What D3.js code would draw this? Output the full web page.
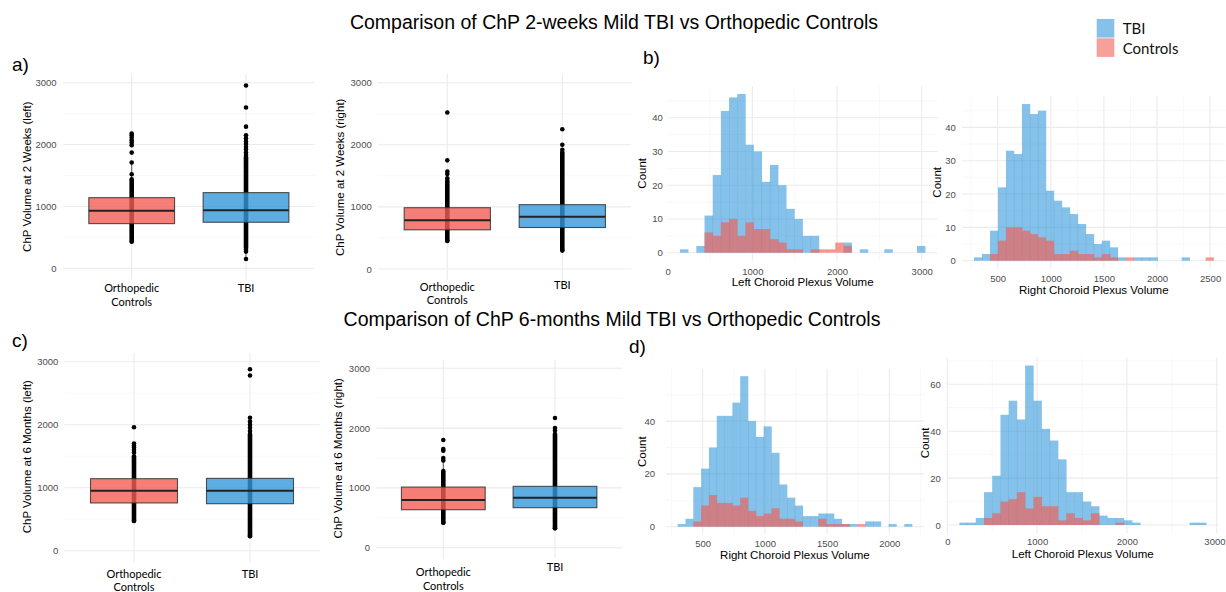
<!DOCTYPE html>
<html><head><meta charset="utf-8">
<script src="https://cdn.jsdelivr.net/npm/d3@7"></script>
<style>body{margin:0;background:#fff}svg{display:block}</style>
</head><body><svg id="c" width="1226" height="592"></svg>
<script>
// ---------------- DATA ----------------
const groups = ["Orthopedic Controls", "TBI"];
const groupLabels = [["Orthopedic", "Controls"], ["TBI"]];
const boxTicks = [0, 1000, 2000, 3000];
const boxMinor = [500, 1500, 2500];

// box stats per group: [whiskerLow, q1, median, q3, whiskerHigh]
const box2wLeftStats  = [[430, 722, 932, 1142, 1710], [150, 744, 938, 1223, 1900]];
const box2wLeftDense  = [[440, 1440], [330, 1800]];
const box2wLeftPts    = [[430, 1520, 1710, 1870, 1990, 2030, 2070, 2110, 2150, 2180],
                         [150, 270, 300, 1830, 1870, 1920, 1960, 2010, 2050, 2100, 2150, 2290, 2600, 2955]];

const box2wRightStats = [[453, 631, 787, 987, 1500], [296, 668, 842, 1036, 1560]];
const box2wRightDense = [[455, 1420], [310, 1880]];
const box2wRightPts   = [[453, 1460, 1530, 1570, 1750, 2520], [296, 1920, 2000, 2250]];

const box6mLeftStats  = [[471, 758, 952, 1143, 1690], [233, 746, 952, 1148, 1740]];
const box6mLeftDense  = [[475, 1500], [230, 1850]];
const box6mLeftPts    = [[471, 1560, 1600, 1640, 1670, 1700, 1960], [233, 1900, 1950, 2000, 2050, 2110, 2780, 2880]];

const box6mRightStats = [[418, 635, 796, 1014, 1500], [324, 669, 835, 1026, 1550]];
const box6mRightDense = [[420, 1280], [325, 1900]];
const box6mRightPts   = [[418, 1460, 1500, 1620, 1650, 1800], [324, 1960, 2000, 2170]];

// histograms: 30 bins each, bin start + width
const hist2wLeftStart = 146, hist2wLeftWidth = 96.5;
const hist2wLeftTBI  = [1,0,2,11,23,42,46,47,32,30,21,26,20,13,10,5,5,0,0,0,3,0,1,0,0,1,0,0,0,2];
const hist2wLeftCtrl = [0,0,0,6,5,9,10,5,9,7,7,4,3,1,1,0,1,1,1,3,2,0,0,0,0,0,0,0,0,0];
const hist2wLeftTicks = [0, 1000, 2000, 3000];

const hist2wRightStart = 277, hist2wRightWidth = 75.2;
const hist2wRightTBI  = [1,2,9,22,33,32,47,44,45,21,18,16,14,11,8,5,6,4,1,0,1,1,1,0,0,0,1,0,0,0];
const hist2wRightCtrl = [0,0,2,6,10,10,9,8,7,6,2,2,3,2,2,1,2,1,0,1,0,0,0,0,0,0,0,0,0,1];
const hist2wRightTicks = [500, 1000, 1500, 2000, 2500];

const hist6mRightStart = 299, hist6mRightWidth = 62.8;
const hist6mRightTBI  = [1,3,15,22,30,42,42,47,57,40,34,38,28,16,11,8,4,4,5,5,3,1,1,0,2,2,0,1,0,1];
const hist6mRightCtrl = [0,0,2,8,12,9,9,8,11,6,4,5,7,3,3,2,0,0,3,1,1,1,0,1,0,0,0,0,0,0];
const hist6mRightTicks = [500, 1000, 1500, 2000];

const hist6mLeftStart = 134, hist6mLeftWidth = 91.6;
const hist6mLeftTBI  = [1,1,3,14,21,47,53,45,68,53,41,36,28,14,14,10,8,4,3,3,2,1,0,0,0,0,0,0,1,1];
const hist6mLeftCtrl = [0,0,0,3,5,10,11,14,7,12,8,8,2,5,3,2,5,0,0,1,0,0,0,0,0,0,0,0,0,0];
const hist6mLeftTicks = [0, 1000, 2000, 3000];

const legendItems = ["TBI", "Controls"];

// ---------------- STYLE ----------------
const BLUE = "#3498DB", RED = "#F25F55";
const GRID = "#EBEBEB", GRID_MINOR = "#F3F3F3";
const SANS = "'Liberation Sans', Arial, Helvetica, sans-serif";
const CAT = "Lato, 'Open Sans', sans-serif";
const svg = d3.select("#c");
const fmt = d3.format("d");
const W = 1226;

function text(x, y, s, opt = {}) {
  const t = svg.append("text").attr("x", x).attr("y", y).text(s)
    .attr("font-family", opt.family || SANS).attr("font-size", opt.size || 11)
    .attr("fill", opt.fill || "#000").attr("text-anchor", opt.anchor || "start");
  if (opt.rotate) t.attr("transform", `rotate(-90,${x},${y})`).attr("dy", "0.35em");
  return t;
}

function styleAxis(g, size) {
  g.select(".domain").remove();
  g.selectAll("text").attr("font-family", SANS).attr("font-size", size || 9.5).attr("fill", "#4D4D4D");
}

// ---------------- BOX PANELS ----------------
function boxPanel(L, title, stats, dense, pts) {
  const y = d3.scaleLinear().domain([0, 3000]).range([L.y0, L.y3000]);
  const x = d3.scalePoint().domain(groups).range([L.xl, L.xr]).padding(0.6);
  const step = x.step(), bw = step * 0.75;
  const top = y(3140), bot = y(-180);
  const g = svg.append("g");
  g.selectAll(".mn").data(boxMinor).join("line")
    .attr("x1", L.xl).attr("x2", L.xr).attr("y1", d => y(d)).attr("y2", d => y(d))
    .attr("stroke", GRID_MINOR).attr("stroke-width", 0.6);
  g.selectAll(".mj").data(boxTicks).join("line")
    .attr("x1", L.xl).attr("x2", L.xr).attr("y1", d => y(d)).attr("y2", d => y(d))
    .attr("stroke", GRID).attr("stroke-width", 1.1);
  g.selectAll(".vx").data(groups).join("line")
    .attr("x1", d => x(d)).attr("x2", d => x(d)).attr("y1", top).attr("y2", bot)
    .attr("stroke", GRID).attr("stroke-width", 1.1);
  const ax = svg.append("g").attr("transform", `translate(${L.xl},0)`)
    .call(d3.axisLeft(y).tickValues(boxTicks).tickFormat(fmt).tickSize(0).tickPadding(L.tickPad));
  styleAxis(ax);
  // whiskers
  g.selectAll(".wh").data(stats).join("line")
    .attr("x1", (d, i) => x(groups[i])).attr("x2", (d, i) => x(groups[i]))
    .attr("y1", d => y(d[0])).attr("y2", d => y(d[4]))
    .attr("stroke", "#333").attr("stroke-width", 0.8);
  // dense point columns
  g.selectAll(".dn").data(dense).join("line")
    .attr("x1", (d, i) => x(groups[i])).attr("x2", (d, i) => x(groups[i]))
    .attr("y1", d => y(d[0])).attr("y2", d => y(d[1]))
    .attr("stroke", "#000").attr("stroke-width", 4.6).attr("stroke-linecap", "round");
  // individual points
  pts.forEach((arr, i) => {
    g.append("g").selectAll("circle").data(arr).join("circle")
      .attr("cx", x(groups[i])).attr("cy", d => y(d)).attr("r", 2.3).attr("fill", "#000");
  });
  // boxes
  g.selectAll(".bx").data(stats).join("rect")
    .attr("x", (d, i) => x(groups[i]) - bw / 2).attr("width", bw)
    .attr("y", d => y(d[3])).attr("height", d => y(d[1]) - y(d[3]))
    .attr("fill", (d, i) => i === 0 ? RED : BLUE).attr("fill-opacity", 0.8)
    .attr("stroke", "#333").attr("stroke-opacity", 0.85).attr("stroke-width", 1.1);
  g.selectAll(".md").data(stats).join("line")
    .attr("x1", (d, i) => x(groups[i]) - bw / 2).attr("x2", (d, i) => x(groups[i]) + bw / 2)
    .attr("y1", d => y(d[2])).attr("y2", d => y(d[2]))
    .attr("stroke", "#222").attr("stroke-width", 2);
  // category labels
  groupLabels.forEach((lines, i) => {
    lines.forEach((s, k) => {
      text(x(groups[i]), (i === 0 ? L.catY0 : L.catY1) + k * 13.4, s,
        { family: CAT, size: 11, anchor: "middle" });
    });
  });
  text(L.titleX, L.titleY, title, { size: 11.5, anchor: "middle", rotate: true });
}

boxPanel({ y0: 268.3, y3000: 82.7, xl: 63.1, xr: 314.6, tickPad: 6.5, titleX: 26.7, titleY: 176.7, catY0: 292.3, catY1: 292.3 },
  "ChP Volume at 2 Weeks (left)", box2wLeftStats, box2wLeftDense, box2wLeftPts);
boxPanel({ y0: 269, y3000: 82.7, xl: 378.3, xr: 631.3, tickPad: 6.6, titleX: 340, titleY: 177.3, catY0: 290.7, catY1: 289.3 },
  "ChP Volume at 2 Weeks (right)", box2wRightStats, box2wRightDense, box2wRightPts);
boxPanel({ y0: 550.7, y3000: 361.7, xl: 64.4, xr: 319.6, tickPad: 6.1, titleX: 26.7, titleY: 456.7, catY0: 577.7, catY1: 577.7 },
  "ChP Volume at 6 Months (left)", box6mLeftStats, box6mLeftDense, box6mLeftPts);
boxPanel({ y0: 547.7, y3000: 368.3, xl: 376.3, xr: 622, tickPad: 6.3, titleX: 338.3, titleY: 458.3, catY0: 576.3, catY1: 571 },
  "ChP Volume at 6 Months (right)", box6mRightStats, box6mRightDense, box6mRightPts);

// ---------------- HISTOGRAMS ----------------
function histPanel(L, xTitle, start, width, tbi, ctrl, xTicks) {
  const n = tbi.length;
  const lo = start, hi = start + n * width, ex = (hi - lo) * 0.05;
  const x = d3.scaleLinear().domain([0, L.refV]).range([L.x0, L.x0 + L.refV * L.pxu]);
  const maxC = d3.max(tbi.concat(ctrl));
  const y = d3.scaleLinear().domain([0, 10]).range([L.y0, L.y0 - 10 * L.pyc]);
  const left = x(lo - ex), right = Math.min(x(hi + ex), W);
  const top = y(maxC * 1.05), bot = y(-maxC * 0.05);
  const yMajor = d3.range(0, maxC * 1.05 + 0.001, L.yStep);
  const yMinor = d3.range(L.yStep / 2, maxC * 1.05, L.yStep);
  const xStep = xTicks[1] - xTicks[0];
  const xMajor = d3.range(xTicks[0] - xStep * 2, hi + ex + xStep, xStep).filter(v => v >= lo - ex && v <= hi + ex);
  const xMinor = d3.range(xTicks[0] - xStep * 2.5, hi + ex + xStep, xStep).filter(v => v >= lo - ex && v <= hi + ex);
  const g = svg.append("g");
  g.selectAll(".ym").data(yMinor).join("line").attr("x1", left).attr("x2", right)
    .attr("y1", d => y(d)).attr("y2", d => y(d)).attr("stroke", GRID_MINOR).attr("stroke-width", 0.6);
  g.selectAll(".xm").data(xMinor).join("line").attr("y1", top).attr("y2", bot)
    .attr("x1", d => x(d)).attr("x2", d => x(d)).attr("stroke", GRID_MINOR).attr("stroke-width", 0.6);
  g.selectAll(".yM").data(yMajor).join("line").attr("x1", left).attr("x2", right)
    .attr("y1", d => y(d)).attr("y2", d => y(d)).attr("stroke", GRID).attr("stroke-width", 1.1);
  g.selectAll(".xM").data(xMajor).join("line").attr("y1", top).attr("y2", bot)
    .attr("x1", d => x(d)).attr("x2", d => x(d)).attr("stroke", GRID).attr("stroke-width", 1.1);
  const draw = (arr, color, op) => {
    const bins = arr.map((v, i) => ({ v, x0: start + i * width, x1: start + (i + 1) * width })).filter(b => b.v > 0);
    g.append("g").selectAll("rect").data(bins).join("rect")
      .attr("x", b => x(b.x0)).attr("width", b => x(b.x1) - x(b.x0) + 0.3)
      .attr("y", b => y(b.v)).attr("height", b => y(0) - y(b.v))
      .attr("fill", color).attr("fill-opacity", op);
  };
  draw(tbi, BLUE, 0.6);
  draw(ctrl, RED, 0.65);
  const ax = svg.append("g").attr("transform", `translate(${left},0)`)
    .call(d3.axisLeft(y).tickValues(yMajor).tickSize(0).tickPadding(left - L.yLabR));
  styleAxis(ax);
  const bx = svg.append("g").attr("transform", `translate(0,${L.xLabBase})`)
    .call(d3.axisBottom(x).tickValues(xTicks).tickFormat(fmt).tickSize(0).tickPadding(0));
  styleAxis(bx);
  bx.selectAll("text").attr("dy", 0).attr("y", 0);
  // keep a label that would run past the page edge inside it
  bx.selectAll(".tick").each(function (d) {
    const t = d3.select(this).select("text");
    const bb = this.getBBox ? t.node().getBBox() : null;
    if (bb && x(d) + bb.width / 2 > W - 1) t.attr("text-anchor", "end").attr("x", W - 1 - x(d));
  });
  text((left + Math.min(x(hi + ex), 1300)) / 2, L.titleBase, xTitle, { size: 11.5, anchor: "middle" });
  text(L.cntX, L.cntY, "Count", { size: 11.5, anchor: "middle", rotate: true });
}

histPanel({ x0: 667.67, pxu: 0.08467, refV: 3000, y0: 252.7, pyc: 3.375, yStep: 10, yLabR: 662.7, xLabBase: 275, titleBase: 285.5, cntX: 641.7, cntY: 173.3 },
  "Left Choroid Plexus Volume", hist2wLeftStart, hist2wLeftWidth, hist2wLeftTBI, hist2wLeftCtrl, hist2wLeftTicks);
histPanel({ x0: 944.6, pxu: 0.1062, refV: 2500, y0: 260.7, pyc: 3.333, yStep: 10, yLabR: 955.7, xLabBase: 281.7, titleBase: 294, cntX: 936.7, cntY: 182.3 },
  "Right Choroid Plexus Volume", hist2wRightStart, hist2wRightWidth, hist2wRightTBI, hist2wRightCtrl, hist2wRightTicks);
histPanel({ x0: 640.5, pxu: 0.1244, refV: 2000, y0: 526.7, pyc: 2.64, yStep: 20, yLabR: 655, xLabBase: 546.7, titleBase: 558.5, cntX: 641.7, cntY: 451.7 },
  "Right Choroid Plexus Volume", hist6mRightStart, hist6mRightWidth, hist6mRightTBI, hist6mRightCtrl, hist6mRightTicks);
histPanel({ x0: 947.3, pxu: 0.0898, refV: 3000, y0: 525, pyc: 2.345, yStep: 20, yLabR: 940.7, xLabBase: 545, titleBase: 557.5, cntX: 925, cntY: 443 },
  "Left Choroid Plexus Volume", hist6mLeftStart, hist6mLeftWidth, hist6mLeftTBI, hist6mLeftCtrl, hist6mLeftTicks);

// ---------------- TITLES / LABELS / LEGEND ----------------
text(614, 29, "Comparison of ChP 2-weeks Mild TBI vs Orthopedic Controls", { size: 19.5, anchor: "middle" });
text(612, 326, "Comparison of ChP 6-months Mild TBI vs Orthopedic Controls", { size: 19.5, anchor: "middle" });
text(12, 71, "a)", { size: 19 });
text(643, 64, "b)", { size: 19 });
text(12, 347, "c)", { size: 19 });
text(629, 353, "d)", { size: 19 });

const leg = svg.append("g").attr("transform", "translate(1096.7,19)");
leg.selectAll("rect").data(legendItems).join("rect")
  .attr("x", 0).attr("y", (d, i) => i * 19.3).attr("width", 17.6).attr("height", 18.6)
  .attr("fill", (d, i) => i === 0 ? BLUE : RED).attr("fill-opacity", 0.6);
leg.selectAll("text").data(legendItems).join("text")
  .attr("x", 26).attr("y", (d, i) => 15 + i * 19.6).text(d => d)
  .attr("font-family", CAT).attr("font-size", 15).attr("fill", "#111");
</script></body></html>
